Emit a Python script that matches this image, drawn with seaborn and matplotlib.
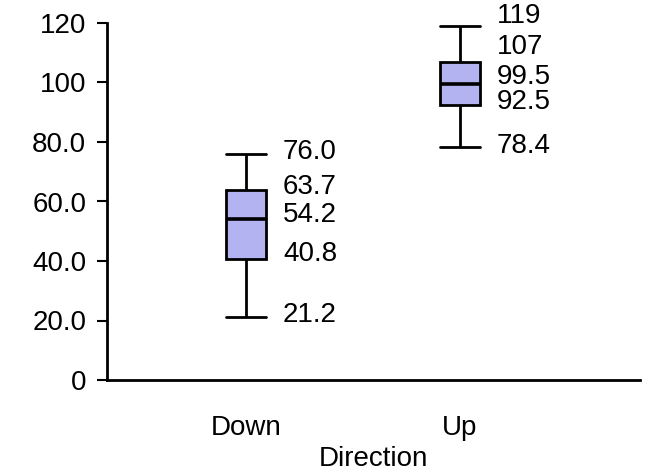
import pandas as pd
import matplotlib
matplotlib.use("Agg")
import matplotlib.pyplot as plt
import seaborn as sns

# five-number summaries
directions = ["Down", "Up"]
down_vals = [21.2, 40.8, 54.2, 63.7, 76.0]
up_vals = [78.4, 92.5, 99.5, 107, 119]
down_labels = ["21.2", "40.8", "54.2", "63.7", "76.0"]
up_labels = ["78.4", "92.5", "99.5", "107", "119"]
y_ticks = [0, 20, 40, 60, 80, 100, 120]
y_tick_labels = ["0", "20.0", "40.0", "60.0", "80.0", "100", "120"]

df = pd.DataFrame({
    "Direction": ["Down"] * len(down_vals) + ["Up"] * len(up_vals),
    "Value": down_vals + up_vals,
})

sns.set_style("white")
plt.rcParams["font.family"] = ["Liberation Sans", "DejaVu Sans"]
plt.rcParams["text.color"] = "black"
plt.rcParams["xtick.color"] = "black"
plt.rcParams["ytick.color"] = "black"
plt.rcParams["axes.labelcolor"] = "black"

fig = plt.figure(figsize=(6.56, 4.73), dpi=100)
ax = fig.add_axes([107 / 656, 93 / 473, 533 / 656, 357 / 473])

box_w = 0.19
sns.boxplot(
    data=df, x="Direction", y="Value", order=directions,
    whis=(0, 100), width=box_w, color="#b3b3f2", saturation=1,
    linecolor="black", linewidth=2, ax=ax,
    medianprops=dict(linewidth=2.6, color="black"),
)

# make caps as wide as the boxes
for line in ax.lines:
    xd = line.get_xdata()
    yd = line.get_ydata()
    if len(xd) == 2 and yd[0] == yd[1] and abs(xd[1] - xd[0]) < box_w * 0.75:
        c = (xd[0] + xd[1]) / 2
        line.set_xdata([c - box_w / 2, c + box_w / 2])

# value labels, with small vertical nudges to avoid overlap (points)
down_nudge = [1.5, 3, 3, 2.5, 1.5]
up_nudge = [0.5, 2, 5, 10.5, 7.5]
for i, (vals, labs, nudge) in enumerate([(down_vals, down_labels, down_nudge),
                                         (up_vals, up_labels, up_nudge)]):
    for v, lab, n in zip(vals, labs, nudge):
        ax.annotate(lab, xy=(i + box_w / 2, v), xytext=(12, n), textcoords="offset points",
                    ha="left", va="center", fontsize=20, color="black")

ax.set_xlim(-0.65, 1.841)
ax.set_ylim(0, 120)
ax.set_yticks(y_ticks)
ax.set_yticklabels(y_tick_labels, fontsize=20)
ax.set_xticks([0, 1])
ax.set_xticklabels(directions, fontsize=20)
ax.tick_params(axis="x", length=0, pad=25)
ax.tick_params(axis="y", length=7, width=1.5, direction="out", pad=8, left=True)
ax.set_xlabel("Direction", fontsize=20, labelpad=4)
ax.set_ylabel("")

sns.despine(ax=ax)
for s in ["left", "bottom"]:
    ax.spines[s].set_linewidth(2)
    ax.spines[s].set_color("black")

fig.savefig("out.png", dpi=100)
